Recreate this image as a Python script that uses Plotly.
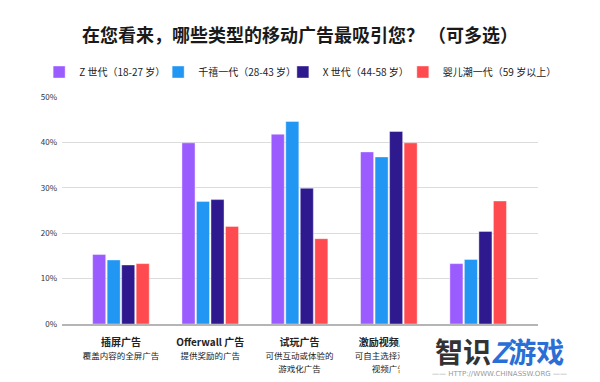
import plotly.graph_objects as go

categories = [
    "<b>插屏广告</b><br><span style='font-size:8.5px'>覆盖内容的全屏广告</span>",
    "<b>Offerwall 广告</b><br><span style='font-size:8.5px'>提供奖励的广告</span>",
    "<b>试玩广告</b><br><span style='font-size:8.5px'>可供互动或体验的<br>游戏化广告</span>",
    "<b>激励视频广告</b><br><span style='font-size:8.5px'>可自主选择观看的<br>视频广告</span>",
    " ",
]
series_names = ["Z 世代（18-27 岁）", "千禧一代（28-43 岁）", "X 世代（44-58 岁）", "婴儿潮一代（59 岁以上）"]
gen_z = [15.3, 39.9, 41.8, 37.9, 13.3]
millennial = [14.1, 27.0, 44.6, 36.8, 14.2]
gen_x = [13.0, 27.4, 29.9, 42.4, 20.4]
boomer = [13.3, 21.5, 18.8, 39.9, 27.1]
colors = ["#9b5cff", "#2196f3", "#2e1a8e", "#ff4b4f"]
yticks = [0, 10, 20, 30, 40, 50]

legend_ids = ["legend", "legend2", "legend3", "legend4"]
legend_x = [-0.048, 0.202, 0.464, 0.716]

fig = go.Figure()
for name, vals, c, lg in zip(series_names, [gen_z, millennial, gen_x, boomer], colors, legend_ids):
    fig.add_trace(go.Bar(
        x=list(range(len(categories))), y=vals, name=name, legend=lg, showlegend=True,
        marker=dict(color=c, line=dict(color="rgba(255,255,255,0.5)", width=0.8)),
    ))

legend_style = dict(orientation="h", xanchor="left", y=1.11, yanchor="middle",
                    font=dict(size=10, color="#222"), itemwidth=30, bgcolor="rgba(0,0,0,0)")

fig.update_layout(
    width=600, height=382,
    showlegend=True,
    margin=dict(l=62, r=62, t=97, b=58),
    paper_bgcolor="white", plot_bgcolor="white",
    font=dict(family="Noto Sans CJK SC", color="#222"),
    title=dict(text="<b>在您看来，哪些类型的移动广告最吸引您？ （可多选）</b>",
               x=0.5, xanchor="center", y=0.906, yanchor="middle",
               font=dict(size=18, color="#1a1a1a")),
    barmode="group", bargap=0.35, bargroupgap=0.1,
    xaxis=dict(tickmode="array", tickvals=list(range(len(categories))), ticktext=categories,
               range=[-0.66, 4.67], showgrid=False, showline=True, linecolor="#b5b5b5",
               linewidth=1.5, ticks="", tickfont=dict(size=10, color="#222"), tickangle=0,
               ticklabelstandoff=8, automargin=False),
    yaxis=dict(range=[0, 50], tickvals=yticks, ticktext=[f"{v}%" for v in yticks],
               gridcolor="#dcdcdc", gridwidth=1, zeroline=False, ticks="",
               tickfont=dict(size=8, color="#333"), ticklabelstandoff=4, automargin=False),
)
for lg, lx in zip(legend_ids, legend_x):
    fig.update_layout({lg: dict(legend_style, x=lx)})

# watermark: white cover box, logo and url
fig.add_annotation(xref="paper", yref="paper", x=1.21, xanchor="right", y=-0.03, yanchor="top",
                   showarrow=False, text=" ", width=235, height=60, bgcolor="white")
fig.add_annotation(xref="paper", yref="paper", x=0.92, xanchor="center", y=-0.12,
                   yanchor="middle", showarrow=False,
                   text="<b><span style='color:#333'>智识</span><span style='color:#2a6fd6;font-style:italic'>Z</span><span style='color:#2a6fd6'>游戏</span></b>",
                   font=dict(size=28, family="Noto Sans CJK SC"))
fig.add_annotation(xref="paper", yref="paper", x=0.92, xanchor="center", y=-0.22,
                   yanchor="middle", showarrow=False,
                   text="—— HTTP://WWW.CHINASSW.ORG ——",
                   font=dict(size=7, color="#999", family="DejaVu Sans"))

fig.write_html("out.html")
